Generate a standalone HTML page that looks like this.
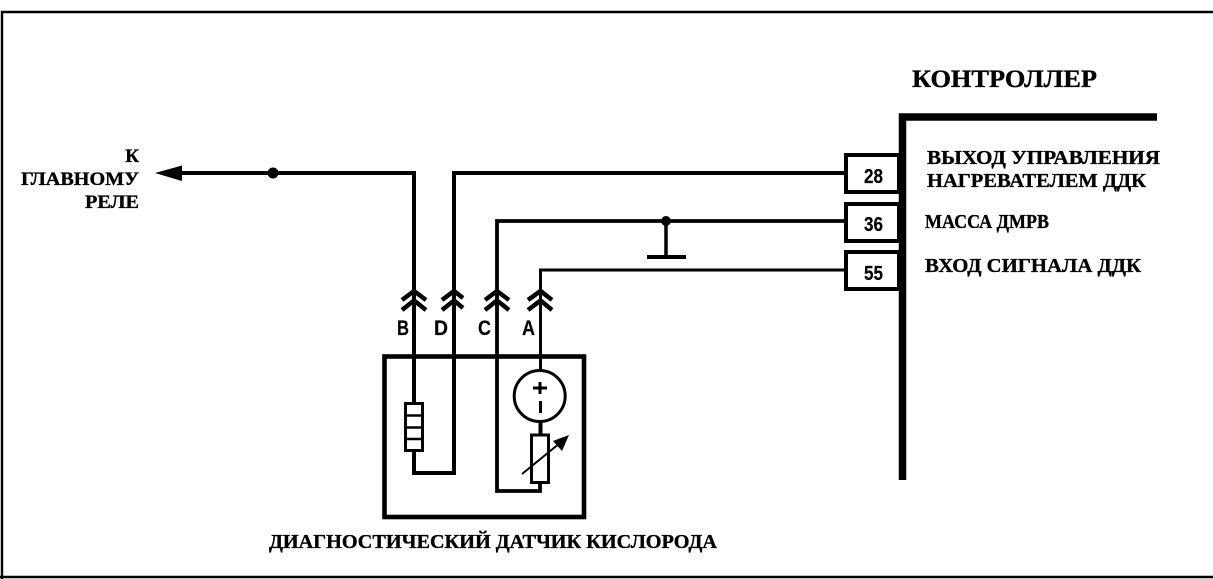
<!DOCTYPE html>
<html><head><meta charset="utf-8"><style>
html,body{margin:0;padding:0;background:#fff;width:1213px;height:579px;overflow:hidden}
svg{display:block}
text{font-family:"Liberation Serif",serif;font-weight:bold;fill:#000;stroke:#000;stroke-width:.35}
text.n{font-family:"Liberation Sans",sans-serif;font-weight:bold;stroke-width:.2}
</style></head><body>
<svg width="1213" height="579" viewBox="0 0 1213 579" xmlns="http://www.w3.org/2000/svg">
<!-- outer border -->
<path d="M2 579V12H1213M0 577H1213" fill="none" stroke="#000" stroke-width="2.4"/>
<!-- controller -->
<path d="M902.500 480V117H1157" fill="none" stroke="#000" stroke-width="7.500"/>
<g fill="#fff" stroke="#000" stroke-width="4">
<rect x="846" y="155" width="53" height="37"/>
<rect x="846" y="204" width="53" height="37"/>
<rect x="846" y="252" width="53" height="37"/>
</g>
<!-- wires -->
<g fill="none" stroke="#000" stroke-linejoin="miter">
<path d="M180 173H414V452M414 451V473H454V173H846" stroke-width="4"/>
<path d="M497 357V221H846M497 221V491H540V483" stroke-width="3.800"/>
<path d="M540.500 380V270H846" stroke-width="3"/>
<path d="M540.500 422V434" stroke-width="4"/>
<path d="M666 221V257" stroke-width="3.500"/>
<path d="M647 257H686" stroke-width="4"/>
<!-- sensor box -->
<rect x="384.500" y="356.500" width="199.500" height="160.500" stroke-width="4.600"/>
<!-- chevrons -->
<g stroke-width="4.500">
<path d="M402 300L414 291L426 300M402 310L414 300.500L426 310"/>
<path d="M442 300L454 291L463 298M442 310L454 300.500L463 308"/>
<path d="M485 300L497 291L509 300M485 310L497 300.500L509 310"/>
<path d="M528 300L540.500 291L552 300M528 310L540.500 300.500L552 310"/>
</g>
<!-- heater -->
<rect x="405.500" y="403.500" width="17" height="47" fill="#fff" stroke-width="3"/>
<path d="M405 415.500H423M405 427.500H423M405 439H423" stroke-width="2.500"/>
<!-- EMF -->
<circle cx="539.700" cy="396" r="25.500" fill="#fff" stroke-width="3"/>
<path d="M533 388H547M540 382V394M540.500 401V413" stroke-width="3"/>
<!-- thermistor -->
<rect x="531.500" y="435" width="17" height="47.500" fill="#fff" stroke-width="3"/>
<path d="M522 474L560 443" stroke-width="2"/>
</g>
<path d="M569 435L553 441L562 451Z" fill="#000"/>
<!-- arrow and dots -->
<path d="M155 173L182 165.500V181Z" fill="#000"/>
<circle cx="273" cy="173" r="5.500" fill="#000"/>
<circle cx="666" cy="221" r="5" fill="#000"/>
<!-- pin numbers -->
<g font-size="20">
<text class="n" x="864" y="183" textLength="19" lengthAdjust="spacingAndGlyphs">28</text>
<text class="n" x="864" y="231" textLength="19" lengthAdjust="spacingAndGlyphs">36</text>
<text class="n" x="864" y="280" textLength="19" lengthAdjust="spacingAndGlyphs">55</text>
</g>
<!-- connector letters -->
<g font-size="21">
<text class="n" x="397" y="335" textLength="12" lengthAdjust="spacingAndGlyphs">B</text>
<text class="n" x="434" y="335" textLength="14" lengthAdjust="spacingAndGlyphs">D</text>
<text class="n" x="478" y="335" textLength="13" lengthAdjust="spacingAndGlyphs">C</text>
<text class="n" x="522" y="335" textLength="13" lengthAdjust="spacingAndGlyphs">A</text>
</g>
<!-- labels -->
<text x="912" y="87" font-size="25" textLength="185" lengthAdjust="spacingAndGlyphs">КОНТРОЛЛЕР</text>
<g font-size="20">
<text x="927" y="164" textLength="233" lengthAdjust="spacingAndGlyphs">ВЫХОД УПРАВЛЕНИЯ</text>
<text x="927" y="187" textLength="219" lengthAdjust="spacingAndGlyphs">НАГРЕВАТЕЛЕМ ДДК</text>
<text x="925" y="228" textLength="124" lengthAdjust="spacingAndGlyphs">МАССА ДМРВ</text>
<text x="925" y="272" textLength="216" lengthAdjust="spacingAndGlyphs">ВХОД СИГНАЛА ДДК</text>
</g>
<g font-size="19" text-anchor="end">
<text x="139" y="162">К</text>
<text x="139" y="185" textLength="118" lengthAdjust="spacingAndGlyphs">ГЛАВНОМУ</text>
<text x="139" y="208" textLength="54" lengthAdjust="spacingAndGlyphs">РЕЛЕ</text>
</g>
<text x="269" y="548" font-size="20" textLength="448" lengthAdjust="spacingAndGlyphs">ДИАГНОСТИЧЕСКИЙ ДАТЧИК КИСЛОРОДА</text>
</svg>
</body></html>
